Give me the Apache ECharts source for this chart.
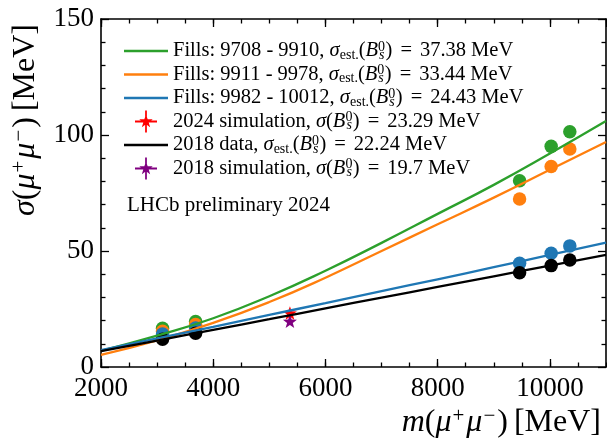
<!DOCTYPE html>
<html lang="en">
<head>
<meta charset="utf-8">
<title>sigma(mu+mu-) vs m(mu+mu-)</title>
<script src="https://cdn.jsdelivr.net/npm/echarts@6/dist/echarts.min.js"></script>
<style>
    html, body { margin: 0; padding: 0; background: #fff; }
    #main { width: 607px; height: 444px; }
</style>
</head>
<body>
<div id="main"></div>
<script type="text/javascript">
    // resonances: J/psi, psi(2S), Y(1S), Y(2S), Y(3S)  [MeV]
    var massPoints = [3097, 3686, 9460, 10023, 10355];
    var fillAPts = [16.7, 19.6, 80.3, 95.1, 101.4];
    var fillBPts = [15.4, 18.3, 72.4, 86.4, 94.0];
    var fillCPts = [14.2, 16.8, 44.7, 49.0, 52.2];
    var data2018Pts = [12.0, 14.6, 40.6, 43.7, 46.1];

    // fitted curves
    var curveMass = [2000, 3000, 4000, 5000, 6000, 7000, 8000, 9000, 10000, 11000];
    var fillACurve = [7.0, 13.5, 21.0, 30.5, 41.5, 53.5, 66.0, 78.5, 92.0, 106.0];
    var fillBCurve = [5.2, 11.5, 19.0, 28.0, 38.5, 50.0, 61.5, 73.0, 85.0, 97.0];
    var fillCCurve = [7.3, 12.3, 17.3, 22.5, 27.5, 32.7, 37.8, 43.0, 48.3, 53.6];
    var data2018Curve = [6.8, 11.4, 16.0, 20.6, 25.3, 29.9, 34.5, 39.1, 43.7, 48.3];

    // B_s0 simulation points
    var bsMass = 5367;
    var sim2024 = 23.29;
    var sim2018 = 19.7;

    var legendNames = ['Fills: 9708 - 9910', 'Fills: 9911 - 9978', 'Fills: 9982 - 10012',
        '2024 simulation', '2018 data', '2018 simulation'];
    var legendSigma = ['37.38', '33.44', '24.43', '23.29', '22.24', '19.7'];
    var legendEst = [true, true, true, false, true, false];

    var colGreen = '#2ca02c', colOrange = '#ff7f0e', colBlue = '#1f77b4';
    var serif = '"Liberation Serif", "DejaVu Serif", serif';

    var starPath = 'path://M50 18L57.64 39.48L80.43 40.11L62.36 54.02L68.81 75.89L50 63L31.19 75.89L37.64 54.02L19.57 40.11L42.36 39.48Z';
    var starBarPath = 'path://M50 18L57.64 39.48L80.43 40.11L62.36 54.02L68.81 75.89L50 63L31.19 75.89L37.64 54.02L19.57 40.11L42.36 39.48Z'
        + 'M0 46H100V54H0ZM46 0H54V100H46Z';
    var linePath = 'path://M0 0H100V5.5H0Z';

    function zip(xs, ys) {
        return xs.map(function (x, i) { return [x, ys[i]]; });
    }

    function curve(name, ys, color) {
        return {
            name: name, type: 'line', data: zip(curveMass, ys), smooth: true,
            symbol: 'none', lineStyle: {color: color, width: 2.3}, itemStyle: {color: color}
        };
    }

    function dots(ys, color) {
        return {
            name: color + ' pts', type: 'scatter', data: zip(massPoints, ys),
            symbol: 'circle', symbolSize: 13.5, itemStyle: {color: color, opacity: 1}
        };
    }

    function legendText(name) {
        var i = legendNames.indexOf(name);
        var s = '{t|' + name + ', }{it|σ}';
        if (legendEst[i]) s += '{sub|est.}';
        s += '{t|(}{it|B}{sup|0}{subi|s}{t|)}{eq|=}{t|' + legendSigma[i] + '}{u|MeV}';
        return s;
    }

    var myChart = echarts.init(document.getElementById('main'));

    var tickStyle = {color: '#000', width: 1.3};
    function xAx(pos, interval, major) {
        return {
            type: 'value', position: pos, min: 2000, max: 11000, interval: interval,
            axisLine: {show: major, lineStyle: {color: '#000', width: 1.6}},
            axisTick: {show: true, inside: true, length: major ? 8 : 4.5, lineStyle: tickStyle},
            axisLabel: {
                show: major && pos === 'bottom', showMaxLabel: false, margin: 8,
                color: '#000', fontFamily: serif, fontSize: 27,
                formatter: function (v) { return String(v); }
            },
            splitLine: {show: false}
        };
    }
    function yAx(pos) {
        return {
            type: 'value', position: pos, min: 0, max: 150, interval: 50,
            axisLine: {show: true, lineStyle: {color: '#000', width: 1.6}},
            axisTick: {show: true, inside: true, length: 8, lineStyle: tickStyle},
            minorTick: {show: true, splitNumber: 5, length: 4.5, lineStyle: tickStyle},
            axisLabel: {show: pos === 'left', margin: 7, color: '#000', fontFamily: serif, fontSize: 27},
            splitLine: {show: false}
        };
    }

    var titleRich = {
        r: {fontFamily: serif, fontSize: 32, fill: '#000', lineHeight: 34},
        i: {fontFamily: serif, fontSize: 32, fontStyle: 'italic', fill: '#000', lineHeight: 34},
        sup: {fontFamily: serif, fontSize: 21, fill: '#000', lineHeight: 20, verticalAlign: 'top', padding: [0, 2, 0, 1]},
        gap: {fontFamily: serif, fontSize: 32, fill: '#000', lineHeight: 34, padding: [0, 6, 0, 0]}
    };

    var legendFs = 20.5;
    var option = {
        animation: false,
        grid: {left: 101, right: 1, top: 19, bottom: 77},
        xAxis: [xAx('bottom', 2000, true), xAx('bottom', 500, false),
            xAx('top', 2000, true), xAx('top', 500, false)],
        yAxis: [yAx('left'), yAx('right')],
        legend: {
            orient: 'vertical', left: 119, top: 35, itemWidth: 44, itemHeight: 22, itemGap: 1.5,
            selectedMode: false,
            data: [
                {name: legendNames[0], icon: linePath}, {name: legendNames[1], icon: linePath},
                {name: legendNames[2], icon: linePath},
                {name: legendNames[3], icon: starBarPath},
                {name: legendNames[4], icon: linePath},
                {name: legendNames[5], icon: starBarPath}
            ],
            formatter: legendText,
            textStyle: {
                color: '#000', fontFamily: serif, fontSize: legendFs,
                rich: {
                    t: {fontFamily: serif, fontSize: legendFs, color: '#000', lineHeight: 22},
                    it: {fontFamily: serif, fontSize: legendFs, fontStyle: 'italic', color: '#000', lineHeight: 22},
                    eq: {fontFamily: serif, fontSize: legendFs, color: '#000', lineHeight: 22, padding: [0, 8, 0, 8]},
                    u: {fontFamily: serif, fontSize: legendFs, color: '#000', lineHeight: 22, padding: [0, 0, 0, 5]},
                    sub: {fontFamily: serif, fontSize: 14, color: '#000', lineHeight: 10, verticalAlign: 'bottom'},
                    sup: {fontFamily: serif, fontSize: 14, color: '#000', lineHeight: 14, verticalAlign: 'top', width: 0},
                    subi: {fontFamily: serif, fontSize: 14, fontStyle: 'italic', color: '#000', lineHeight: 10,
                        verticalAlign: 'bottom', padding: [0, 1, 0, 1]}
                }
            }
        },
        graphic: [
            {
                type: 'text', x: 127, y: 205,
                style: {text: 'LHCb preliminary 2024', fontFamily: serif, fontSize: 21, fill: '#000',
                    align: 'left', verticalAlign: 'middle'}
            },
            {
                type: 'text', x: 601, y: 423,
                style: {
                    text: '{i|m}{r|(}{i|μ}{sup|+}{i|μ}{sup|−}{gap|)}{r|[MeV]}', align: 'right', verticalAlign: 'middle',
                    fontFamily: serif, fontSize: 32, fill: '#000', rich: titleRich
                }
            },
            {
                type: 'text', x: 26, y: 120, rotation: Math.PI / 2,
                style: {
                    text: '{i|σ}{r|(}{i|μ}{sup|+}{i|μ}{sup|−}{gap|)}{r|[MeV]}', align: 'center', verticalAlign: 'middle',
                    fontFamily: serif, fontSize: 32, fill: '#000', rich: titleRich
                }
            }
        ],
        series: [
            curve(legendNames[0], fillACurve, colGreen),
            curve(legendNames[1], fillBCurve, colOrange),
            curve(legendNames[2], fillCCurve, colBlue),
            curve(legendNames[4], data2018Curve, '#000'),
            dots(fillAPts, colGreen),
            dots(fillBPts, colOrange),
            dots(fillCPts, colBlue),
            dots(data2018Pts, '#000'),
            {
                name: legendNames[3], type: 'scatter', data: [[bsMass, sim2024]],
                symbol: starPath, symbolKeepAspect: true, symbolSize: 14, itemStyle: {color: '#ff0000', opacity: 1}
            },
            {
                name: legendNames[5], type: 'scatter', data: [[bsMass, sim2018]],
                symbol: starPath, symbolKeepAspect: true, symbolSize: 14, itemStyle: {color: '#800080', opacity: 1}
            }
        ]
    };

    myChart.setOption(option);
</script>
</body>
</html>
